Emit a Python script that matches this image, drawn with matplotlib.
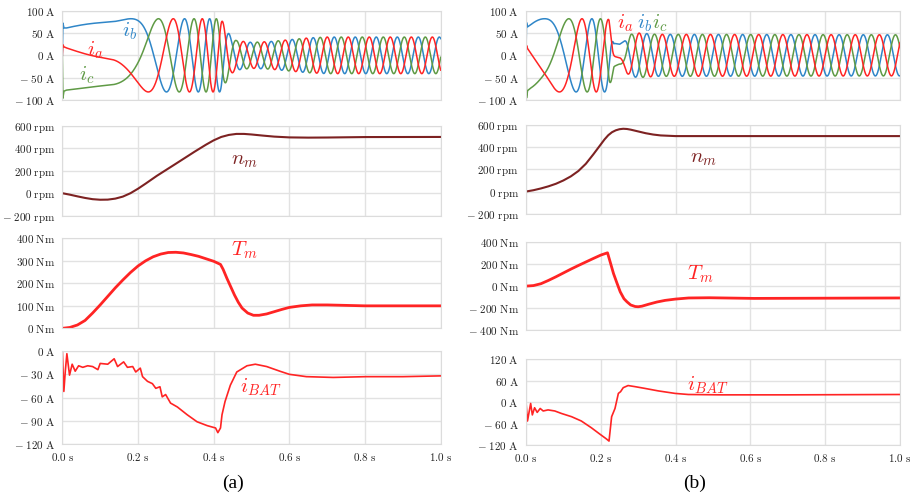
import numpy as np
import matplotlib.pyplot as plt

plt.rcParams['mathtext.fontset'] = 'cm'
plt.rcParams['font.family'] = ['Liberation Serif', 'DejaVu Serif']

# ---------------- case (a) ----------------
# rotor speed, rpm
n_a_t = [0, 0.02, 0.04, 0.06, 0.08, 0.10, 0.12, 0.14, 0.16, 0.18, 0.20, 0.22, 0.25,
         0.30, 0.35, 0.38, 0.40, 0.42, 0.44, 0.46, 0.48, 0.50, 0.53, 0.56, 0.60,
         0.65, 0.70, 0.80, 1.0]
n_a = [0, -13, -28, -42, -53, -58, -57, -48, -30, 0, 40, 85, 155,
       262, 370, 432, 470, 500, 518, 527, 527, 522, 512, 503, 496,
       494, 495, 499, 500]

# torque, Nm
T_a_t = [0, 0.02, 0.04, 0.06, 0.08, 0.10, 0.12, 0.14, 0.16, 0.18, 0.20, 0.22, 0.24,
         0.26, 0.28, 0.30, 0.32, 0.34, 0.36, 0.38, 0.40, 0.418, 0.425, 0.435, 0.445,
         0.455, 0.465, 0.475, 0.49, 0.505, 0.52, 0.54, 0.56, 0.58, 0.60, 0.63, 0.66,
         0.70, 0.80, 1.0]
T_a = [0, 4, 15, 35, 68, 104, 142, 180, 215, 248, 277, 300, 318,
       330, 337, 338, 335, 328, 320, 309, 298, 284, 262, 222, 185,
       148, 116, 90, 68, 58, 58, 64, 74, 84, 93, 100, 104,
       104, 100, 100]

# battery current, A
ibat_a_t = [0, 0.004, 0.008, 0.012, 0.019, 0.026, 0.034, 0.043, 0.054, 0.067, 0.08,
            0.094, 0.10, 0.12, 0.137, 0.146, 0.162, 0.172, 0.186, 0.194, 0.206, 0.212,
            0.225, 0.238, 0.247, 0.258, 0.264, 0.273, 0.286, 0.304, 0.33, 0.356, 0.383,
            0.405, 0.411, 0.418, 0.422, 0.43, 0.444, 0.461, 0.488, 0.51, 0.54, 0.575,
            0.60, 0.645, 0.716, 0.803, 0.90, 1.0]
ibat_a = [0, -52, -25, -3.5, -31, -17, -26, -19, -21, -19, -20,
          -24, -16, -17, -10, -20, -14, -21, -20, -27, -22, -33,
          -39, -42, -48, -46, -59, -56, -67, -72, -82, -91, -96,
          -99, -105, -99, -82, -65, -44, -27, -19, -17, -20, -26,
          -30, -33, -34, -33, -33, -32]

# phase current envelope (A) and electrical frequency (Hz)
amp_a_t = [0, 0.0015, 0.004, 0.01, 0.42, 0.43, 0.445, 0.46, 0.50, 0.55, 0.60, 0.65, 0.70, 1.0]
amp_a = [0, 100, 84, 82, 82, 64, 42, 33, 29, 31, 35, 39, 41, 41]
fe_a_t = [0, 0.05, 0.10, 0.13, 0.17, 0.20, 0.23, 0.26, 0.30, 0.35, 0.40, 0.42, 0.45,
          0.50, 0.60, 1.0]
fe_a = [0.6, 0.5, 0.3, 0.3, 1.8, 3.2, 5.5, 7.5, 10.5, 14.5, 19.0, 20.0, 17.8,
        18.2, 18.0, 18.0]
theta0_a = 76

# ---------------- case (b) ----------------
n_b_t = [0, 0.02, 0.04, 0.06, 0.08, 0.10, 0.12, 0.14, 0.16, 0.18, 0.20, 0.21, 0.22,
         0.23, 0.24, 0.25, 0.26, 0.27, 0.28, 0.30, 0.32, 0.34, 0.36, 0.40, 0.50,
         0.60, 0.80, 1.0]
n_b = [0, 12, 28, 47, 70, 100, 137, 185, 250, 335, 425, 470, 508,
       535, 552, 562, 566, 564, 558, 542, 526, 514, 506, 500, 500,
       500, 500, 500]

T_b_t = [0, 0.02, 0.04, 0.06, 0.08, 0.10, 0.12, 0.14, 0.16, 0.18, 0.20, 0.218, 0.226,
         0.234, 0.243, 0.252, 0.262, 0.27, 0.28, 0.292, 0.30, 0.31, 0.328, 0.35, 0.372,
         0.40, 0.435, 0.49, 0.61, 0.80, 1.0]
T_b = [0, 5, 22, 52, 85, 120, 155, 188, 220, 252, 283, 304, 210,
       115, 30, -52, -115, -143, -172, -186, -188, -183, -165, -145, -130,
       -118, -108, -106, -112, -110, -108]

ibat_b_t = [0, 0.004, 0.0125, 0.017, 0.023, 0.03, 0.038, 0.046, 0.059, 0.077, 0.095,
            0.122, 0.148, 0.175, 0.198, 0.215, 0.222, 0.229, 0.238, 0.247, 0.253, 0.26,
            0.273, 0.291, 0.318, 0.354, 0.399, 0.434, 0.524, 0.70, 1.0]
ibat_b = [0, -53, -4, -36, -16, -29, -18, -25, -22, -25, -32,
          -41, -53, -72, -90, -103, -109, -41, -18, 24, 29, 40,
          46, 43, 38, 31, 24, 21, 20, 20, 21]

amp_b_t = [0, 0.0015, 0.004, 0.01, 0.215, 0.222, 0.235, 0.25, 0.26, 0.27, 0.28, 0.30, 0.35, 1.0]
amp_b = [0, 100, 84, 82, 82, 80, 30, 26, 30, 40, 47, 50, 47, 46]
fe_b_t = [0, 0.05, 0.085, 0.115, 0.15, 0.185, 0.215, 0.222, 0.23, 0.238, 0.25, 0.26,
          0.27, 0.30, 0.40, 1.0]
fe_b = [2.3, 2.6, 5.5, 7.5, 11.5, 14.5, 15.5, 20, 18, 2, 1, 10,
        16, 16.5, 15.5, 15.5]
theta0_b = 76


def phase_currents(amp_t, amp, fe_t, fe, theta0):
    t = np.linspace(0, 1, 20001)
    f = np.interp(t, fe_t, fe)
    theta = np.deg2rad(theta0) + 2 * np.pi * np.concatenate(
        [[0], np.cumsum((f[1:] + f[:-1]) / 2 * np.diff(t))])
    a = np.interp(t, amp_t, amp)
    return (t, a * np.cos(theta), a * np.cos(theta - 2 * np.pi / 3),
            a * np.cos(theta + 2 * np.pi / 3))


def tick_lab(v, unit):
    s = ('%g' % abs(v))
    if v < 0:
        return r'$-\ %s\ \mathrm{%s}$' % (s, unit)
    return r'$%s\ \mathrm{%s}$' % (s, unit)


RED = '#ff2424'
BLUE = '#2f86c8'
GREEN = '#5f9a45'
DRED = '#7d2222'

fig = plt.figure(figsize=(9.10, 4.99), dpi=100)

left = dict(x=0.0685, w=0.4158,
            rows=[(0.7996, 0.179), (0.5677, 0.1804), (0.342, 0.1804), (0.1096, 0.187)])
right = dict(x=0.578, w=0.411,
             rows=[(0.7996, 0.179), (0.5717, 0.1778), (0.3387, 0.1758), (0.1082, 0.1723)])


def style(ax, yt, unit, bottom):
    ax.set_xlim(0, 1)
    ax.set_xticks([0, 0.2, 0.4, 0.6, 0.8, 1.0])
    ax.set_yticks(yt)
    ax.set_ylim(min(yt), max(yt))
    ax.set_yticklabels([tick_lab(v, unit) for v in yt])
    if bottom:
        ax.set_xticklabels([r'$%.1f\ \mathrm{s}$' % v for v in ax.get_xticks()])
    else:
        ax.set_xticklabels([])
    ax.grid(True, color='#e2e2e2', lw=1.0)
    ax.set_axisbelow(True)
    for s in ax.spines.values():
        s.set_color('#dcdcdc')
    ax.tick_params(length=0, labelsize=8, pad=5, colors='#222222')


cases = [
    (left, n_a_t, n_a, T_a_t, T_a, ibat_a_t, ibat_a, amp_a_t, amp_a, fe_a_t, fe_a, theta0_a,
     [0, 100, 200, 300, 400], [-120, -90, -60, -30, 0], '(a)'),
    (right, n_b_t, n_b, T_b_t, T_b, ibat_b_t, ibat_b, amp_b_t, amp_b, fe_b_t, fe_b, theta0_b,
     [-400, -200, 0, 200, 400], [-120, -60, 0, 60, 120], '(b)'),
]

for k, (col, nt, n, Tt, T, it, ib, at, am, ft, fe, th0, Tticks, Iticks, tag) in enumerate(cases):
    axs = [fig.add_axes([col['x'], b, col['w'], h]) for b, h in col['rows']]
    t, ia, ib_, ic = phase_currents(at, am, ft, fe, th0)
    axs[0].plot(t, ib_, color=BLUE, lw=1.1)
    axs[0].plot(t, ic, color=GREEN, lw=1.1)
    axs[0].plot(t, ia, color=RED, lw=1.1)
    style(axs[0], [-100, -50, 0, 50, 100], 'A', False)

    axs[1].plot(nt, n, color=DRED, lw=1.5)
    style(axs[1], [-200, 0, 200, 400, 600], 'rpm', False)

    axs[2].plot(Tt, T, color=RED, lw=2.0)
    style(axs[2], Tticks, 'Nm', False)

    axs[3].plot(it, ib, color=RED, lw=1.2)
    style(axs[3], Iticks, 'A', True)

    fig.text(col['x'] + col['w'] * 0.45, 0.032, tag, ha='center', va='center', fontsize=14)

    if k == 0:
        axs[0].text(0.066, 12, r'$i_a$', color=RED, fontsize=15, ha='left', va='center')
        axs[0].text(0.158, 53, r'$i_b$', color=BLUE, fontsize=15, ha='left', va='center')
        axs[0].text(0.045, -44, r'$i_c$', color=GREEN, fontsize=15, ha='left', va='center')
        axs[1].text(0.48, 290, r'$n_m$', color=DRED, fontsize=15, ha='center', va='center')
        axs[2].text(0.48, 348, r'$T_m$', color=RED, fontsize=15, ha='center', va='center')
        axs[3].text(0.525, -47, r'$i_{BAT}$', color=RED, fontsize=15, ha='center', va='center')
    else:
        axs[0].text(0.243, 72, r'$i_a$', color=RED, fontsize=15, ha='left', va='center')
        axs[0].text(0.297, 72, r'$i_b$', color=BLUE, fontsize=15, ha='left', va='center')
        axs[0].text(0.337, 72, r'$i_c$', color=GREEN, fontsize=15, ha='left', va='center')
        axs[1].text(0.475, 300, r'$n_m$', color=DRED, fontsize=15, ha='center', va='center')
        axs[2].text(0.465, 110, r'$T_m$', color=RED, fontsize=15, ha='center', va='center')
        axs[3].text(0.485, 47, r'$i_{BAT}$', color=RED, fontsize=15, ha='center', va='center')

fig.savefig('out.png', dpi=100)
